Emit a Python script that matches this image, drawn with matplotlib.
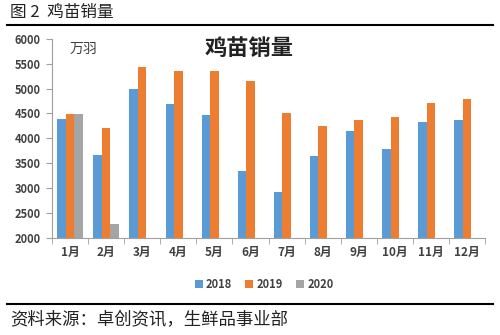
import matplotlib
matplotlib.use("Agg")
import matplotlib.pyplot as plt
import numpy as np

plt.rcParams['font.family'] = ['Noto Sans CJK SC', 'DejaVu Sans']

months = ["1月", "2月", "3月", "4月", "5月", "6月", "7月", "8月", "9月", "10月", "11月", "12月"]
sales_2018 = [4390, 3670, 4990, 4700, 4460, 3340, 2930, 3640, 4150, 3790, 4330, 4360]
sales_2019 = [4480, 4210, 5430, 5360, 5360, 5160, 4500, 4250, 4370, 4420, 4710, 4790]
sales_2020 = [4480, 2270]
series_names = ["2018", "2019", "2020"]
colors = ["#5B9BD5", "#ED7D31", "#A5A5A5"]

fig = plt.figure(figsize=(5, 3.35), dpi=100)
ax = fig.add_axes([0.104, 0.29, 0.866, 0.594])

x = np.arange(len(months))
w = 0.235
ax.bar(x - w, sales_2018, w, color=colors[0], label=series_names[0])
ax.bar(x, sales_2019, w, color=colors[1], label=series_names[1])
ax.bar(np.arange(len(sales_2020)) + w, sales_2020, w, color=colors[2], label=series_names[2])

ax.set_ylim(2000, 6000)
ax.set_yticks(np.arange(2000, 6001, 500))
ax.set_xlim(-0.5, len(months) - 0.5)
ax.set_xticks(x)
ax.set_xticklabels(months)
ax.set_xticks(np.arange(-0.5, len(months)), minor=True)
ax.tick_params(axis='x', which='major', length=0, pad=6, labelsize=8.5, colors='#404040')
ax.tick_params(axis='x', which='minor', length=4, color='#a0a0a0')
ax.tick_params(axis='y', length=4, color='#a0a0a0', labelsize=8, labelcolor='#404040', pad=4)
for lab in ax.get_yticklabels() + ax.get_xticklabels():
    lab.set_fontweight('bold')
for s in ['top', 'right']:
    ax.spines[s].set_visible(False)
for s in ['left', 'bottom']:
    ax.spines[s].set_color('#a0a0a0')

ax.text(0.04, 0.95, "万羽", transform=ax.transAxes, fontsize=10, color='#404040', va='center')
ax.text(0.455, 0.95, "鸡苗销量", transform=ax.transAxes, fontsize=16, fontweight='bold',
        color='#222222', ha='center', va='center')

leg = ax.legend(loc='center', bbox_to_anchor=(0.49, -0.235), ncol=3, frameon=False, fontsize=8,
                handlelength=0.7, handleheight=0.7, handletextpad=0.3, columnspacing=1.2,
                labelcolor='#404040')
for t in leg.get_texts():
    t.set_fontweight('bold')

fig.text(0.02, 0.962, "图 2  鸡苗销量", fontsize=12, va='center', color='#222222')
fig.add_artist(plt.Line2D([0.014, 0.986], [0.925, 0.925], color='black', lw=1.5))
fig.add_artist(plt.Line2D([0.014, 0.986], [0.092, 0.092], color='black', lw=1.5))
fig.text(0.02, 0.045, "资料来源：卓创资讯，生鲜品事业部", fontsize=12.5, va='center', color='#222222')

fig.savefig("out.png", dpi=100)
